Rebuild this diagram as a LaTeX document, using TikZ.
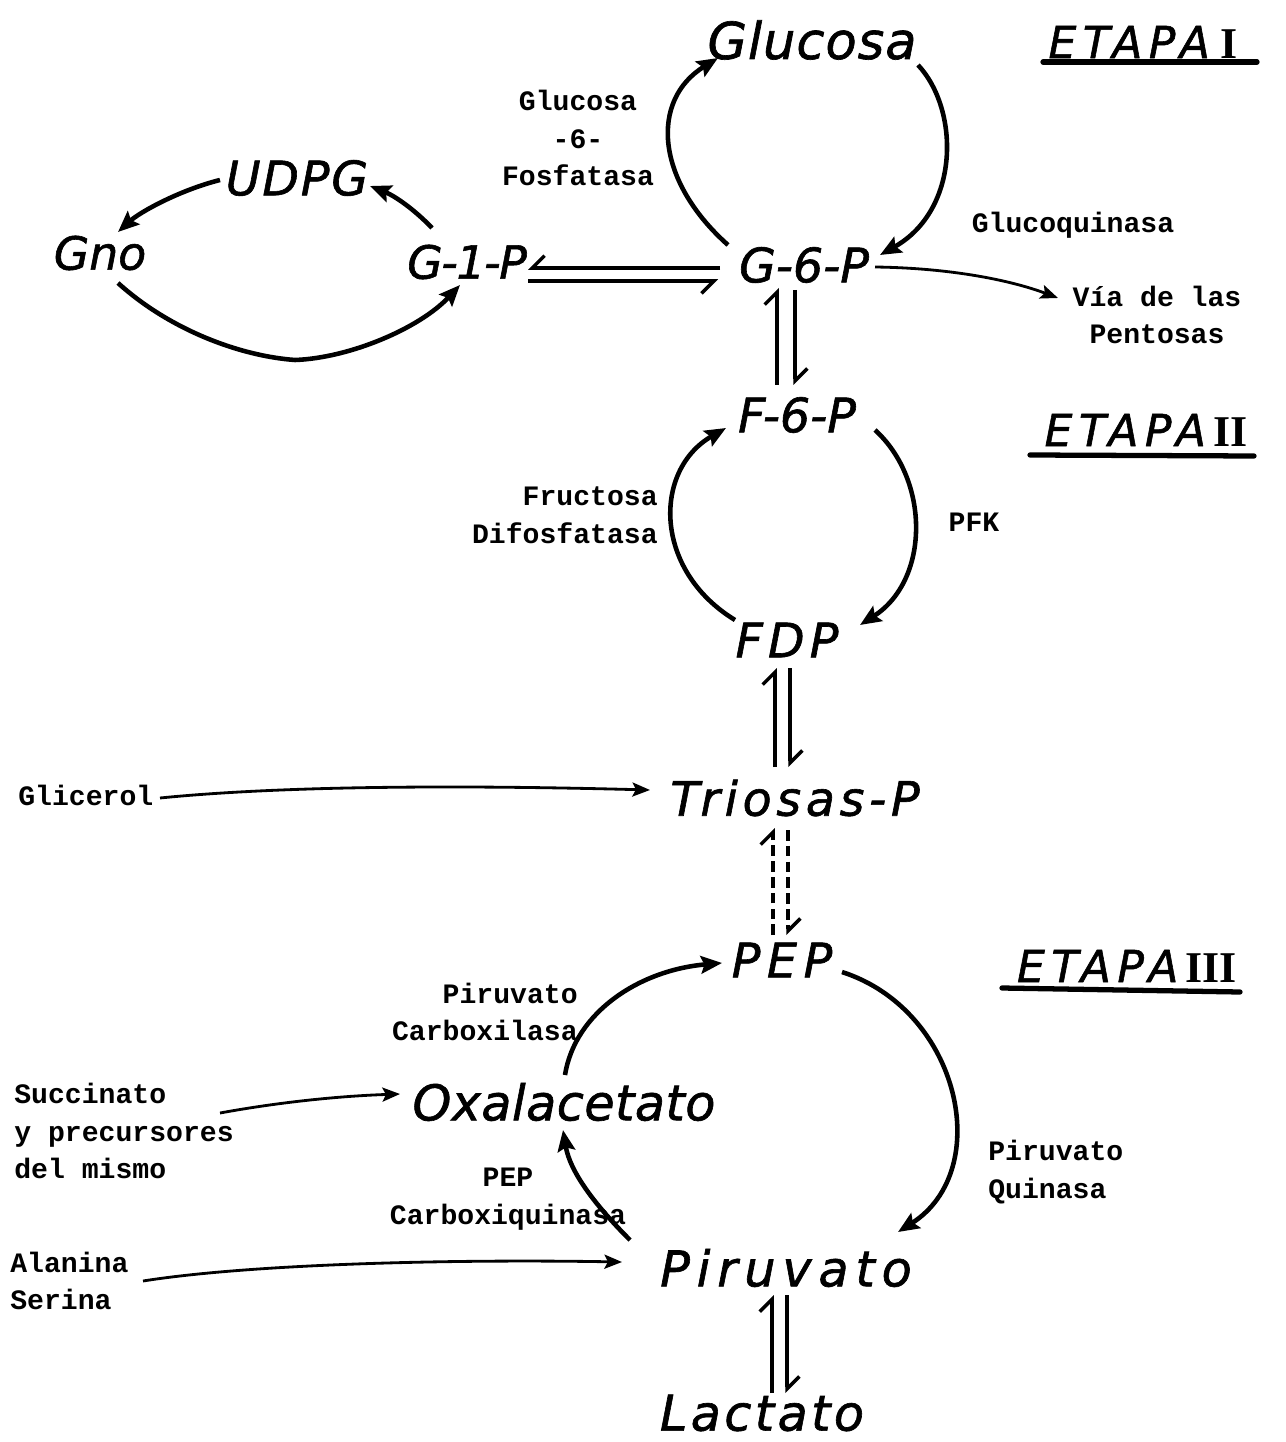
\documentclass[tikz,border=0pt]{standalone}
\usepackage{fontspec}
\usetikzlibrary{arrows.meta}
\newfontfamily\handfont{DejaVu Sans Oblique}[FakeBold=1.3]
\newfontfamily\twfont{Liberation Mono Bold}
\newfontfamily\romfont{Liberation Serif Bold}
\begin{document}
\begin{tikzpicture}[x=0.02cm,y=-0.02cm,
  met/.style n args={2}{font=\handfont\fontsize{#1}{30}\selectfont\addfontfeature{LetterSpace=#2}, inner sep=0pt},
  enz/.style={font=\twfont\fontsize{16}{21.5}\selectfont, inner sep=0pt},
  cyc/.style={line width=2.6pt, -{Stealth[length=12pt,width=10pt,inset=2pt]}},
  thinarr/.style={line width=1.6pt, -{Stealth[length=10pt,width=8pt,inset=2pt]}},
  harpl/.style={line width=2pt, -{Straight Barb[harpoon,length=7pt,width=14pt]}},
  harpr/.style={line width=2pt, -{Straight Barb[harpoon,swap,length=7pt,width=14pt]}},
  dsh/.style={dash pattern=on 6pt off 3pt},
  uline/.style={line width=3pt, line cap=round},
]
\useasboundingbox[fill=white] (0,0) rectangle (1285,1442);

% ---------- metabolites ----------
\node[met={29}{2}] (glu) at (812,40) {Glucosa};
\node[met={27}{4}] (udpg) at (297,178) {UDPG};
\node[met={26}{0}] (gno) at (100,253) {Gno};
\node[met={26}{-3}] (g1p) at (467,262) {G-1-P};
\node[met={27}{0}] (g6p) at (804,265) {G-6-P};
\node[met={27}{0}] (f6p) at (797,415) {F-6-P};
\node[met={27}{11}] (fdp) at (787,640) {FDP};
\node[met={27}{10}] (tri) at (795,798) {Triosas-P};
\node[met={27}{14}] (pep) at (782,960) {PEP};
\node[met={28}{1}] (oxa) at (564,1102) {Oxalacetato};
\node[met={28}{14}] (pir) at (786,1268) {Piruvato};
\node[met={28}{7}] (lac) at (762,1413) {Lactato};

% ---------- stage titles ----------
\node[met={25}{15}] (et1) at (1143,42) {ETAPA\hspace{6pt}{\romfont I}};
\node[met={25}{15}] (et2) at (1146,430) {ETAPA\,{\romfont II}};
\node[met={25}{15}] (et3) at (1127,966) {ETAPA\,{\romfont III}};
\coordinate (u1a) at (1043,62); \coordinate (u1b) at (1257,62);
\coordinate (u2a) at (1030,455); \coordinate (u2b) at (1254,456);
\coordinate (u3a) at (1002,988); \coordinate (u3b) at (1240,992);
\draw[uline] (u1a) -- (u1b);
\draw[uline] (u2a) -- (u2b);
\draw[uline] (u3a) -- (u3b);

% ---------- enzyme / side labels ----------
\node[enz, align=center] (e1) at (578,138) {Glucosa\\-6-\\Fosfatasa};
\node[enz] (e2) at (1073,225) {Glucoquinasa};
\node[enz, align=center] (pent) at (1157,315) {Vía de las\\Pentosas};
\node[enz, align=right, anchor=east] (e3) at (658,515) {Fructosa\\Difosfatasa};
\node[enz] (e4) at (974,522) {PFK};
\node[enz, anchor=west] (gli) at (18,795) {Glicerol};
\node[enz, align=right, anchor=east] (e5) at (578,1012) {Piruvato\\Carboxilasa};
\node[enz, align=left, anchor=west] (suc) at (14,1131) {Succinato\\y precursores\\del mismo};
\node[enz, align=left, anchor=west] (e6) at (988,1172) {Piruvato\\Quinasa};
\node[enz, align=center] (e7) at (508,1199) {PEP\\Carboxiquinasa};
\node[enz, align=left, anchor=west] (ala) at (10,1281) {Alanina\\Serina};

% ---------- Glucosa cycle ----------
\coordinate (a1s) at (728,245); \coordinate (a1e) at (718,58);
\draw[cyc] (a1s) .. controls (655,180) and (650,100) .. (a1e);
\coordinate (a2s) at (918,65); \coordinate (a2e) at (880,255);
\draw[cyc] (a2s) .. controls (960,110) and (960,210) .. (a2e);

% ---------- UDPG cycle ----------
\coordinate (b1s) at (432,228); \coordinate (b1e) at (370,186);
\draw[cyc] (b1s) .. controls (415,210) and (395,196) .. (b1e);
\coordinate (b2s) at (220,180); \coordinate (b2e) at (118,232);
\draw[cyc] (b2s) .. controls (180,190) and (140,212) .. (b2e);
\coordinate (b3s) at (118,283); \coordinate (b3m) at (295,360); \coordinate (b3e) at (460,285);
\draw[cyc] (b3s) .. controls (170,330) and (240,356) .. (b3m) .. controls (350,358) and (420,328) .. (b3e);

% ---------- G-1-P <=> G-6-P ----------
\coordinate (h1a) at (720,268); \coordinate (h1b) at (528,268);
\coordinate (h2a) at (528,281); \coordinate (h2b) at (718,281);
\draw[harpr] (h1a) -- (h1b);
\draw[harpr] (h2a) -- (h2b);

% ---------- G-6-P -> Pentosas ----------
\coordinate (p1s) at (875,267); \coordinate (p1e) at (1058,298);
\draw[thinarr] (p1s) .. controls (950,268) and (1010,280) .. (p1e);

% ---------- G-6-P <=> F-6-P ----------
\coordinate (v1a) at (777,385); \coordinate (v1b) at (777,288);
\coordinate (v2a) at (795,290); \coordinate (v2b) at (795,385);
\draw[harpl] (v1a) -- (v1b);
\draw[harpl] (v2a) -- (v2b);

% ---------- F-6-P cycle ----------
\coordinate (c1s) at (735,620); \coordinate (c1e) at (726,428);
\draw[cyc] (c1s) .. controls (653,570) and (653,470) .. (c1e);
\coordinate (c2s) at (875,430); \coordinate (c2e) at (860,625);
\draw[cyc] (c2s) .. controls (930,480) and (930,580) .. (c2e);

% ---------- FDP <=> Triosas-P ----------
\coordinate (w1a) at (775,767); \coordinate (w1b) at (775,668);
\coordinate (w2a) at (790,668); \coordinate (w2b) at (790,767);
\draw[harpl] (w1a) -- (w1b);
\draw[harpl] (w2a) -- (w2b);

% ---------- Glicerol -> Triosas-P ----------
\coordinate (g1s) at (160,798); \coordinate (g1e) at (650,790);
\draw[thinarr] (g1s) .. controls (300,784) and (500,786) .. (g1e);

% ---------- Triosas-P <=> PEP (dashed) ----------
\coordinate (d1a) at (773,935); \coordinate (d1b) at (773,828);
\coordinate (d2a) at (788,830); \coordinate (d2b) at (788,935);
\draw[harpl,dsh] (d1a) -- (d1b);
\draw[harpl,dsh] (d2a) -- (d2b);

% ---------- PEP cycle ----------
\coordinate (k1s) at (565,1075); \coordinate (k1e) at (722,963);
\draw[cyc] (k1s) .. controls (575,1012) and (640,970) .. (k1e);
\coordinate (k2s) at (842,972); \coordinate (k2e) at (898,1232);
\draw[cyc] (k2s) .. controls (960,1010) and (995,1170) .. (k2e);
\coordinate (k3s) at (630,1240); \coordinate (k3e) at (563,1130);
\draw[cyc] (k3s) .. controls (595,1205) and (570,1172) .. (k3e);

% ---------- Succinato -> Oxalacetato ----------
\coordinate (s1s) at (220,1113); \coordinate (s1e) at (400,1094);
\draw[thinarr] (s1s) .. controls (280,1102) and (340,1096) .. (s1e);

% ---------- Alanina/Serina -> Piruvato ----------
\coordinate (r1s) at (143,1281); \coordinate (r1e) at (622,1262);
\draw[thinarr] (r1s) .. controls (250,1264) and (450,1259) .. (r1e);

% ---------- Piruvato <=> Lactato ----------
\coordinate (l1a) at (772,1393); \coordinate (l1b) at (772,1295);
\coordinate (l2a) at (787,1295); \coordinate (l2b) at (787,1393);
\draw[harpl] (l1a) -- (l1b);
\draw[harpl] (l2a) -- (l2b);
\end{tikzpicture}
\end{document}
